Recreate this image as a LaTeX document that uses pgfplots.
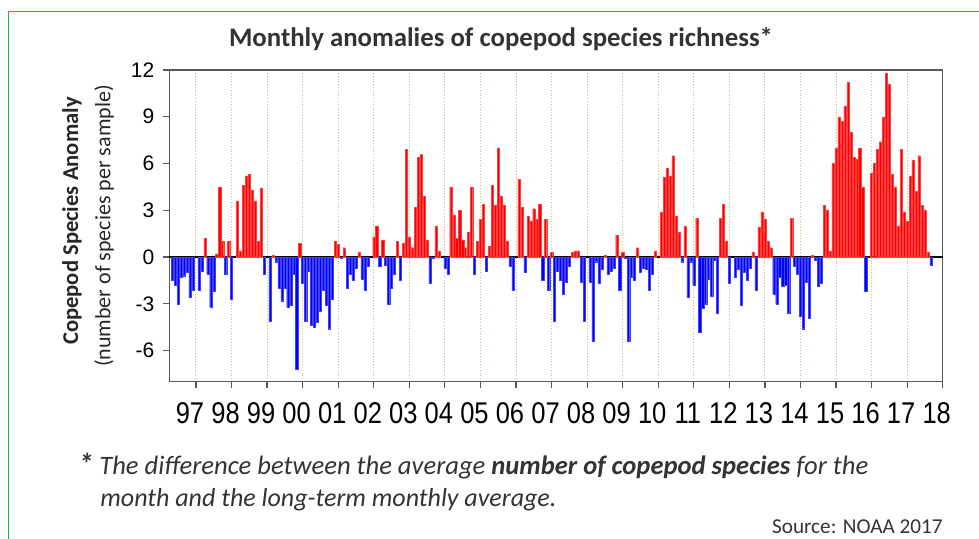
\documentclass[border=0pt]{standalone}
\usepackage{pgfplots}
\pgfplotsset{compat=1.18}
\usepackage{graphicx}
\usepackage{fontspec}
\setmainfont{Carlito}
\newfontfamily\arial{Liberation Sans}
\definecolor{gridtan}{RGB}{215,185,120}
\definecolor{frameg}{RGB}{90,90,90}
\definecolor{txt}{RGB}{51,51,51}
\definecolor{bordergreen}{RGB}{0,200,60}
\newcommand\xl[1]{\scalebox{0.85}[1]{#1}}
\begin{document}
\begin{tikzpicture}
\useasboundingbox (0,0) rectangle (489.5pt,269pt);
\begin{axis}[
  at={(84.65pt,78.15pt)}, anchor=south west,
  scale only axis, width=386.7pt, height=155.85pt,
  xmin=3, xmax=264, ymin=-8, ymax=12,
  ytick={-6,-3,0,3,6,9,12},
  xtick={12,24,...,264},
  xticklabels={\xl{97},\xl{98},\xl{99},\xl{00},\xl{01},\xl{02},\xl{03},\xl{04},\xl{05},\xl{06},\xl{07},\xl{08},\xl{09},\xl{10},\xl{11},\xl{12},\xl{13},\xl{14},\xl{15},\xl{16},\xl{17},\xl{18}},
  tick align=outside, tick pos=left,
  major tick length=3pt,
  tick style={frameg, line width=0.6pt},
  xmajorgrids, grid style={densely dotted, gridtan, line width=0.5pt},
  axis line style={frameg, line width=0.7pt},
  /pgf/number format/assume math mode=true,
  yticklabel style={font=\arial\fontsize{10.5}{12}\selectfont, xshift=-1pt},
  xticklabel style={font=\arial\fontsize{15}{18}\selectfont, xshift=-3pt, yshift=-4pt},
  extra y ticks={0}, extra y tick labels={},
  extra y tick style={ymajorgrids=true, major tick length=0pt, grid style={black, solid, line width=0.6pt}},
]
\addplot[ybar, bar width=0.74, bar shift=0pt, fill=red, draw=red!75, line width=0.15pt] coordinates {
(15,1.2)(19,0.2)(20,4.5)(21,1.0)(23,1.0)(26,3.6)(27,0.4)(28,4.6)(29,5.2)(30,5.3)(31,4.3)(32,3.6)(33,1.0)(34,4.4)(38,0.1)(47,0.9)(59,1.0)(60,0.8)(62,0.6)(67,0.3)(72,1.3)(73,2.0)(75,1.1)(80,1.0)(82,0.9)(83,6.9)(84,1.3)(85,0.6)(86,3.2)(87,6.4)(88,6.6)(89,3.9)(90,1.1)(93,2.0)(94,0.4)(98,4.5)(99,2.7)(100,1.2)(101,3.0)(102,1.1)(103,0.6)(104,1.6)(105,4.5)(107,1.0)(108,2.4)(109,3.4)(111,0.7)(112,4.6)(113,3.3)(114,7.0)(115,3.9)(116,3.3)(117,1.0)(121,5.0)(122,3.2)(124,2.6)(125,2.3)(126,3.1)(127,2.4)(128,3.4)(130,2.4)(132,0.3)(139,0.3)(140,0.4)(141,0.4)(150,0.1)(154,1.4)(156,0.3)(161,0.6)(167,0.4)(169,2.9)(170,5.1)(171,5.7)(172,5.2)(173,6.5)(174,2.6)(175,1.6)(177,2.0)(181,2.5)(189,2.5)(190,3.4)(191,1.0)(200,0.3)(202,1.9)(203,2.9)(204,2.4)(205,1.0)(206,0.6)(213,2.5)(220,0.1)(224,3.3)(225,3.0)(226,0.4)(227,6.0)(228,7.0)(229,9.0)(230,8.7)(231,9.7)(232,11.2)(233,8.0)(234,6.4)(235,6.3)(236,7.0)(237,4.5)(240,5.4)(241,6.0)(242,6.9)(243,7.4)(244,9.0)(245,11.8)(246,11.1)(247,5.3)(248,4.5)(249,2.0)(250,6.9)(251,2.9)(252,2.3)(253,5.2)(254,6.2)(255,4.2)(256,6.5)(257,3.3)(258,3.0)(259,0.3)
};
\addplot[ybar, bar width=0.74, bar shift=0pt, fill=blue, draw=blue!75, line width=0.15pt] coordinates {
(4,-1.5)(5,-1.8)(6,-3.0)(7,-1.3)(8,-1.2)(9,-1.0)(10,-2.6)(11,-2.1)(13,-2.1)(14,-0.9)(16,-1.1)(17,-3.2)(18,-2.2)(22,-1.1)(24,-2.7)(35,-1.1)(37,-4.1)(39,-0.3)(40,-2.0)(41,-2.8)(42,-2.0)(43,-3.2)(44,-3.1)(45,-1.1)(46,-7.2)(48,-1.7)(49,-4.1)(50,-0.9)(51,-4.4)(52,-4.5)(53,-4.2)(54,-3.5)(55,-2.1)(56,-3.1)(57,-4.6)(58,-2.7)(61,-0.1)(63,-2.0)(64,-1.1)(65,-1.5)(66,-0.7)(68,-1.4)(69,-2.1)(70,-0.6)(74,-0.6)(76,-0.5)(77,-3.0)(78,-2.0)(79,-1.1)(81,-1.5)(91,-1.7)(92,-0.1)(96,-0.7)(97,-1.1)(106,-1.1)(110,-0.9)(118,-0.6)(119,-2.1)(123,-1.0)(129,-1.5)(131,-2.1)(133,-4.1)(134,-0.9)(135,-1.5)(136,-2.4)(137,-1.6)(138,-0.6)(142,-1.6)(143,-4.1)(145,-1.6)(146,-5.4)(147,-0.3)(148,-1.7)(149,-0.8)(151,-1.1)(152,-0.9)(153,-0.7)(155,-2.1)(157,-0.1)(158,-5.4)(159,-1.3)(160,-1.5)(162,-1.0)(163,-0.7)(164,-0.8)(165,-2.1)(166,-1.1)(176,-0.3)(178,-2.6)(179,-0.3)(180,-1.8)(182,-4.8)(183,-3.3)(184,-3.0)(185,-1.4)(186,-2.5)(187,-0.2)(188,-3.6)(192,-1.7)(194,-1.3)(195,-0.8)(196,-3.1)(197,-1.0)(198,-1.5)(199,-0.7)(201,-2.1)(207,-2.4)(208,-3.0)(209,-1.3)(210,-1.9)(211,-1.8)(212,-3.6)(214,-0.6)(215,-1.1)(216,-3.8)(217,-4.6)(218,-1.6)(219,-3.9)(221,-0.2)(222,-1.9)(223,-1.7)(238,-2.2)(260,-0.5)
};
\end{axis}
\begin{scope}[x=0.5pt, y=-0.5pt, shift={(0pt,269pt)}]
\draw[bordergreen, line width=0.6pt] (8.3,540) -- (8.3,11.7) -- (981,11.7);
\node[txt, font=\bfseries\fontsize{13.4}{16}\selectfont] at (501,39) {Monthly anomalies of copepod species richness*};
\node[rotate=90, font=\bfseries\fontsize{11.3}{14}\selectfont, text=black!85] at (72,221) {Copepod Species Anomaly};
\node[rotate=90, font=\fontsize{11}{13}\selectfont, text=black!85] at (104,226) {(number of species per sample)};
\node[anchor=west, txt, inner sep=0pt, font=\itshape\fontsize{13.3}{15}\selectfont] at (78,466) {{\bfseries\fontsize{15}{15}\selectfont*} The difference between the average \textbf{number of copepod species} for the};
\node[anchor=west, txt, inner sep=0pt, font=\itshape\fontsize{13}{15}\selectfont] at (100,500) {month and the long-term monthly average.};
\node[anchor=east, txt, inner sep=0pt, font=\fontsize{10.6}{13}\selectfont] at (943,527) {Source: NOAA 2017};
\end{scope}
\end{tikzpicture}
\end{document}
